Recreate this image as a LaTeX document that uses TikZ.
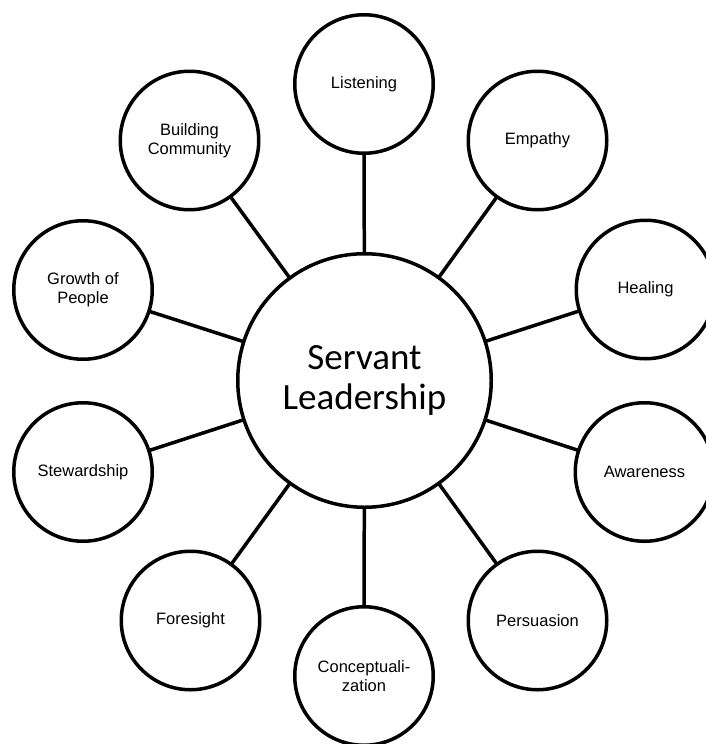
\documentclass[tikz,border=0pt]{standalone}
\usepackage{fontspec}
\setmainfont{Liberation Sans}
\newfontfamily\hubfont{Carlito}
\begin{document}
\begin{tikzpicture}[x=1pt,y=-1pt,
  outer/.style={circle,draw,line width=3.5pt,minimum size=138.5pt,inner sep=0pt,outer sep=0pt,
    align=center,font=\fontsize{16.5}{19}\selectfont},
  hub/.style={circle,draw,line width=3.5pt,minimum size=253.5pt,inner sep=0pt,outer sep=0pt,
    align=center,font=\hubfont\fontsize{37}{40}\selectfont},
  spoke/.style={line width=3.5pt}]
\clip (0,0) rectangle (706,744);
\fill[white] (0,0) rectangle (706,744);
\node[hub] (c) at (364.5,380.5) {Servant\\Leadership};
\node[outer] (l1) at (364,84) {Listening};
\node[outer] (l2) at (537.5,140.5) {Empathy};
\node[outer] (l3) at (645.5,289.5) {Healing};
\node[outer] (l4) at (644.5,472) {Awareness};
\node[outer] (l5) at (537.5,620.5) {Persuasion};
\node[outer] (l6) at (364,676) {Conceptuali-\\zation};
\node[outer] (l7) at (190.5,620.5) {Foresight};
\node[outer] (l8) at (83,472) {Stewardship};
\node[outer] (l9) at (83,290) {Growth of\\People};
\node[outer] (l10) at (189.5,140.5) {Building\\Community};
\foreach \n in {l1,l2,l3,l4,l5,l6,l7,l8,l9,l10}
  \draw[spoke] (c) -- (\n);
\end{tikzpicture}
\end{document}
